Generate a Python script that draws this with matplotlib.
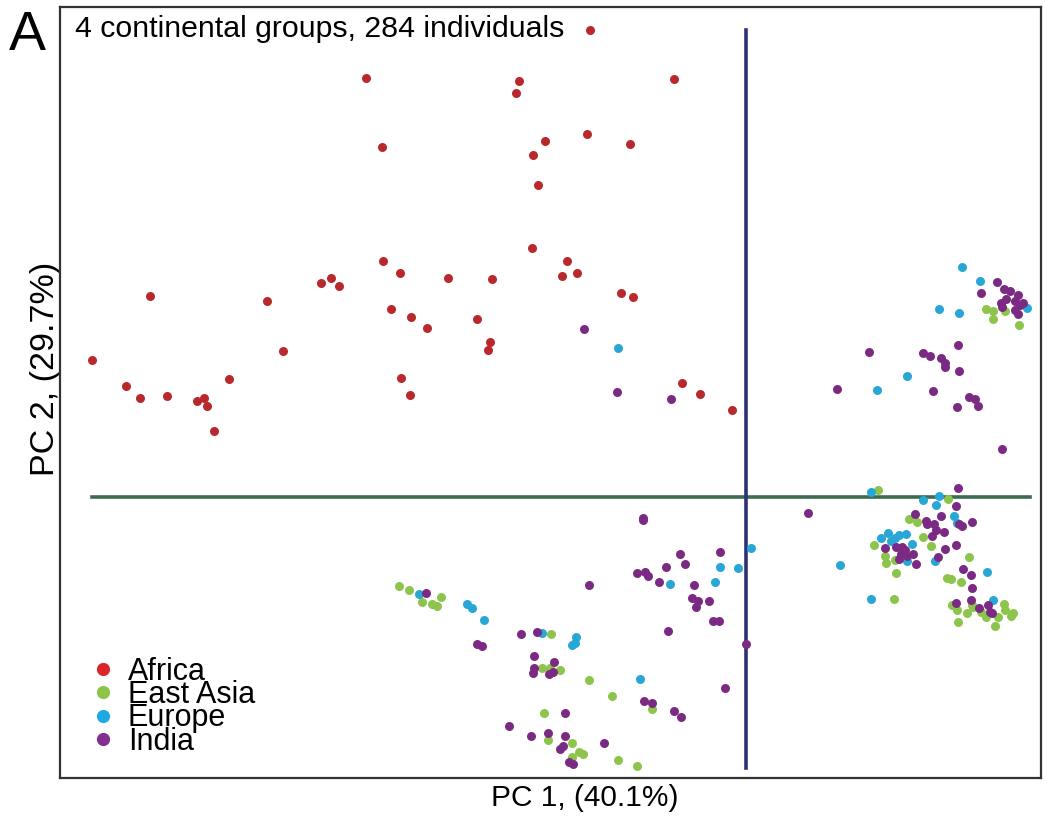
import matplotlib
matplotlib.use("Agg")
import matplotlib.pyplot as plt
from matplotlib.lines import Line2D

plt.rcParams["font.family"] = ["Liberation Sans", "DejaVu Sans"]

# PC scores (arbitrary units, PC2 axis points down)
africa_pc1 = [590, 366, 519, 516, 674, 382, 545, 587, 630, 533, 538, 532, 383, 400,
              448, 492, 567, 577, 562, 621, 633, 391, 411, 427, 477, 490, 488, 401,
              410, 682, 700, 732, 150, 267, 321, 331, 339, 92, 283, 126, 140, 167,
              197, 204, 207, 229, 214]
africa_pc2 = [30, 78, 81, 93, 79, 147, 141, 134, 144, 155, 185, 248, 261, 273,
              278, 279, 261, 273, 276, 293, 297, 309, 317, 328, 319, 342, 350, 378,
              395, 383, 394, 410, 296, 301, 283, 278, 286, 360, 351, 386, 398, 396,
              401, 398, 406, 379, 431]

eastasia_pc1 = [399, 409, 422, 432, 437, 441, 551, 542, 550, 560, 589, 612, 652, 544,
                548, 572, 579, 583, 572, 618, 637,
                986, 993, 993, 1005, 1019,
                878, 948, 909, 917, 874, 923, 931, 885, 886, 895, 896, 969, 947, 951,
                961, 894, 952, 957, 967, 972, 981, 986, 958, 995, 1004, 1005, 998,
                1013, 1011, 953, 973]
eastasia_pc2 = [586, 590, 602, 604, 606, 597, 634, 668, 668, 670, 680, 696, 709, 713,
                740, 743, 752, 754, 757, 760, 766,
                309, 311, 319, 311, 325,
                490, 499, 519, 522, 545, 537, 546, 556, 563, 560, 573, 557, 578, 579,
                582, 599, 605, 610, 613, 605, 612, 617, 622, 626, 604, 610, 617,
                613, 616, 605, 607]

europe_pc1 = [618, 419, 467, 472, 484, 542, 576, 572, 575, 670, 715, 720, 738, 751, 640,
              962, 980, 939, 959, 1027, 907, 877,
              871, 939, 923, 936, 954, 957, 881, 888, 895, 899, 906, 891, 912, 907,
              935, 840, 987, 871, 993]
europe_pc2 = [348, 594, 604, 608, 620, 633, 637, 645, 643, 584, 582, 567, 568, 548, 679,
              267, 281, 309, 313, 308, 376, 390,
              492, 496, 500, 505, 516, 523, 538, 533, 538, 535, 534, 541, 544, 561,
              561, 565, 572, 599, 600]

india_pc1 = [584, 617, 671,
             426, 477, 482, 521, 537, 534, 534, 533, 554, 549, 553, 589, 643, 643, 680,
             637, 645, 648, 666, 685, 659, 694, 692, 698, 696, 709, 720, 713, 719, 668,
             746, 725, 644, 652, 674, 681, 509, 531, 548, 565, 565, 563, 560, 604, 569,
             573,
             869, 837, 923, 930, 941, 945, 945, 958, 959, 933, 969, 975, 978, 957, 1002,
             997, 981, 1004, 1010, 1018, 1006, 1001, 1015, 1020, 1002, 1015, 1018, 1023,
             808, 958, 956, 915, 941, 926, 927, 934, 936, 944, 932, 959, 962, 972, 956,
             945, 885, 896, 902, 905, 901, 907, 913, 899, 916, 938, 963, 971, 972, 956,
             971, 979, 988, 990, 992]
india_pc2 = [329, 392, 399,
             593, 644, 646, 634, 632, 656, 668, 673, 662, 674, 672, 585, 520, 518, 554,
             573, 572, 576, 567, 564, 582, 585, 598, 601, 607, 601, 552, 621, 621, 631,
             644, 688, 701, 703, 711, 717, 726, 736, 733, 713, 736, 746, 749, 743, 762,
             764,
             352, 389, 353, 356, 358, 363, 367, 345, 371, 391, 397, 399, 406, 407, 449,
             282, 293, 289, 291, 295, 299, 303, 301, 305, 307, 310, 314, 303,
             513, 488, 506, 514, 516, 521, 524, 524, 530, 532, 536, 524, 526, 522, 545,
             549, 548, 547, 547, 550, 554, 556, 554, 559, 564, 557, 569, 575, 588, 603,
             600, 608, 605, 612, 613]

groups = ["Africa", "East Asia", "Europe", "India"]
pt_colors = ["#b8282c", "#8cc44c", "#28a6d6", "#7b2a84"]
leg_colors = ["#d8262c", "#8dc44a", "#20a9e1", "#82308f"]
series = [(africa_pc1, africa_pc2), (eastasia_pc1, eastasia_pc2),
          (europe_pc1, europe_pc2), (india_pc1, india_pc2)]

PC1_ORIGIN, PC2_ORIGIN = 746, 497

fig = plt.figure(figsize=(10.45, 8.18), dpi=100)
ax = fig.add_axes([60 / 1045, (818 - 778) / 818, (1041 - 60) / 1045, (778 - 7) / 818])

for (x, y), c in zip(series, pt_colors):
    ax.scatter(x, y, s=42, color=c, linewidths=0, zorder=3)

ax.plot([92, 1030], [PC2_ORIGIN, PC2_ORIGIN], color="#3d6a50", lw=2.6, zorder=2)
ax.plot([PC1_ORIGIN, PC1_ORIGIN], [30, 768], color="#2d3273", lw=2.6, zorder=2)

ax.set_xlim(60, 1041)
ax.set_ylim(778, 7)
ax.set_xticks([])
ax.set_yticks([])
for sp in ax.spines.values():
    sp.set_linewidth(1.6)
    sp.set_color("#333333")

ax.set_xlabel("PC 1, (40.1%)", fontsize=21.5)
ax.xaxis.set_label_coords((585 - 60) / 981, -0.008)
ax.set_ylabel("PC 2, (29.7%)", fontsize=24.5)
ax.yaxis.set_label_coords(0.001, (778 - 369) / 771)

ax.text(75, 29, "4 continental groups, 284 individuals", fontsize=21.8,
        va="center", ha="left")
fig.text(9 / 1045, 1 - 36 / 818, "A", fontsize=40, va="center", ha="left")

handles = [Line2D([], [], ls="", marker="o", ms=9.5, mec="none", mfc=c) for c in leg_colors]
ax.legend(handles, groups, loc="lower left", bbox_to_anchor=(0.016, 0.012),
          frameon=False, fontsize=22, labelspacing=-0.22, handletextpad=0.3,
          handlelength=1.0, borderaxespad=0)

fig.savefig("out.png", dpi=100)
